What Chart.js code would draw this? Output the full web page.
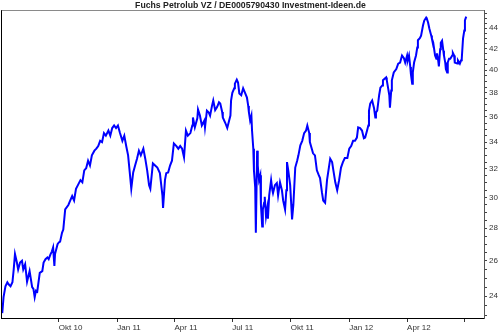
<!DOCTYPE html>
<html><head><meta charset="utf-8">
<script src="https://cdn.jsdelivr.net/npm/chart.js@4/dist/chart.umd.min.js"></script>
<style>html,body{margin:0;padding:0;background:#fff;}#wrap{width:500px;height:333px;}</style>
</head><body><div id="wrap"><canvas id="c" width="500" height="333"></canvas></div>
<script>
const chartTitle = 'Fuchs Petrolub VZ / DE0005790430 Investment-Ideen.de';

// days since 2010-07-01
const dayOffsets = [
  3,5,8,11,13,16,19,21,23,26,28,31,34,36,39,42,46,50,52,54,56,58,62,66,68,71,74,76,79,81,83,85,86,90,92,94,97,99,
  102,107,110,113,116,119,122,126,129,132,135,138,141,144,148,151,154,157,160,163,166,170,173,176,179,182,185,188,192,195,198,201,204,206,209,212,215,218,221,225,228,231,234,
  236,240,247,251,255,256,259,261,264,267,270,273,277,280,283,286,289,292,295,299,302,303,306,310,311,314,317,321,322,325,328,330,333,335,338,341,344,346,349,350,354,357,360,362,363,365,368,369,372,374,376,379,382,385,388,390,391,393,395,396,398,399,401,402,404,405,407,409,410,412,413,415,416,418,420,421,423,426,428,429,432,435,437,440,443,445,448,450,451,453,456,459,461,464,467,469,472,475,478,481,483,486,487,490,492,495,498,501,503,506,508,511,514,519,522,524,527,530,533,536,539,542,546,549,
  552,555,558,561,563,566,569,572,574,577,579,580,582,585,588,590,591,593,596,598,601,602,605,607,608,610,612,613,615,616,619,623,626,629,632,635,637,640,641,643,645,646,648,649,651,654,656,657,660,662,665,667,670,671,673,675,678,679,681,684,686,687,689,690,692,693,695,697,698,700,701,703,704,706,708,711,712,714,715,719,720,723,725,726,728,730,731,733
];
const closePrices = [
  23.1,23.95,24.55,24.77,24.66,24.55,24.77,25.5,26.4,25.9,25.5,25.9,26.0,25.5,25.8,24.8,25.4,24.5,24.4,23.95,24.3,24.25,25.3,25.4,25.9,26.1,26.2,26.1,26.4,26.55,26.8,25.7,26.4,27.0,27.1,27.15,27.7,27.9,
  29.2,29.5,29.8,30.1,29.8,30.6,30.85,31.2,31.05,31.9,32.05,32.6,32.25,33.0,33.35,33.5,33.7,34.1,34.0,34.7,34.5,34.9,34.5,35.1,35.3,35.1,35.3,34.75,34.1,34.5,33.7,33.0,31.55,30.6,31.75,32.25,32.75,33.35,33.0,33.5,32.75,31.9,30.85,
  30.6,32.4,32.1,31.7,30.15,29.3,31.2,31.7,31.75,32.25,32.6,33.9,33.7,33.5,33.7,33.5,32.85,34.9,34.5,34.7,35.3,35.95,35.15,35.9,36.6,36.1,35.3,35.7,35.15,36.5,36.35,36.1,36.9,37.35,36.55,36.8,37.2,37.1,36.4,35.95,35.5,35.1,35.7,36.1,37.35,38.0,38.4,38.8,39.15,38.9,37.95,37.8,38.4,38.0,37.6,36.9,36.4,35.7,36.1,34.9,33.5,31.9,30.7,27.7,33.35,32.25,31.2,31.55,29.5,28.1,29.2,29.65,30.05,28.75,29.3,28.6,30.15,31.2,30.5,30.3,30.85,31.0,30.15,31.05,30.5,29.8,29.2,30.5,32.5,31.9,30.85,28.55,29.5,32.1,32.6,33.0,33.75,34.1,34.7,34.9,35.3,34.7,34.0,33.5,33.15,33.0,31.9,31.55,31.35,30.35,29.8,29.65,31.2,32.75,32.5,31.9,31.05,30.5,31.2,32.1,32.5,32.8,32.8,33.5,
  33.7,34.1,34.1,34.35,35.15,35.1,34.9,34.3,34.35,34.9,35.3,36.5,37.1,37.35,36.7,35.95,36.35,36.5,37.8,38.45,38.65,39.1,39.25,39.35,39.1,38.45,37.8,36.75,38.2,39.1,39.8,40.1,40.6,40.7,41.35,41.1,40.7,41.35,40.9,41.35,40.3,39.65,38.8,39.8,40.7,41.35,42.1,42.8,43.0,43.25,44.25,44.75,45.05,44.95,44.55,43.95,43.25,42.95,42.6,41.35,41.05,41.55,40.85,40.35,41.95,42.55,42.75,41.8,41.35,40.7,40.1,39.8,40.7,41.05,41.05,41.35,41.6,41.35,40.7,40.6,40.9,40.6,40.9,41.05,42.95,43.75,44.75,45.15
];

const xTickDays = [92,184,274,365,457,549,640,731];
const xTickLabels = ['Okt 10','Jan 11','Apr 11','Jul 11','Okt 11','Jan 12','Apr 12',''];
const yLabelValues = [24,26,28,30,32,34,36,38,40,42,44];
const yTickValues = [];
for (let v = 23; v <= 45.5; v += 0.5) yTickValues.push(v);

const points = dayOffsets.map((d, i) => ({x: d, y: closePrices[i]}));
if (dayOffsets.length !== closePrices.length) console.error('length mismatch', dayOffsets.length, closePrices.length);

const FONT = 'Liberation Sans, Arial, Helvetica, sans-serif';

const framePlugin = {
  id: 'frame',
  afterDraw(chart) {
    const {ctx, chartArea: a} = chart;
    ctx.save();
    ctx.lineWidth = 1;
    ctx.strokeStyle = '#8a8a8a';
    ctx.beginPath(); ctx.moveTo(a.left, Math.round(a.top) + 0.5); ctx.lineTo(a.right, Math.round(a.top) + 0.5); ctx.stroke();
    ctx.strokeStyle = '#000';
    ctx.beginPath(); ctx.moveTo(Math.round(a.left) + 0.5, a.top); ctx.lineTo(Math.round(a.left) + 0.5, a.bottom); ctx.stroke();
    ctx.restore();
  }
};

new Chart(document.getElementById('c'), {
  type: 'line',
  data: { datasets: [{ data: points, borderColor: '#0000ff', borderWidth: 2, pointRadius: 0, tension: 0, fill: false }] },
  options: {
    responsive: false, devicePixelRatio: 1, animation: false,
    layout: { padding: { left: 1, right: 0, top: 0, bottom: 0 } },
    plugins: {
      legend: { display: false }, tooltip: { enabled: false },
      title: { display: true, text: chartTitle, color: '#222', padding: { top: 0, bottom: 0 },
        font: { family: FONT, size: 8.7, weight: 'bold', lineHeight: 1.18 } }
    },
    scales: {
      x: {
        type: 'linear', min: 1, max: 761,
        afterBuildTicks: s => { s.ticks = xTickDays.map(v => ({ value: v })); },
        afterFit: s => { s.height = 15; },
        grid: { drawOnChartArea: false, drawTicks: true, tickLength: 4, tickColor: '#333' },
        border: { display: true, color: '#000', width: 1 },
        ticks: { autoSkip: false, maxRotation: 0, minRotation: 0, align: 'start', padding: 1, color: '#333',
          font: { family: FONT, size: 8 }, callback: (v, i) => xTickLabels[i] }
      },
      y: {
        type: 'logarithmic', position: 'right', min: 22.85, max: 45.8,
        afterBuildTicks: s => { s.ticks = yTickValues.map(v => ({ value: v })); },
        afterFit: s => { s.width = 16; },
        grid: { drawOnChartArea: false, drawTicks: true, tickLength: 3, tickColor: '#444' },
        border: { display: true, color: '#555', width: 1 },
        ticks: { autoSkip: false, padding: 2, color: '#333', font: { family: FONT, size: 8 },
          callback: v => yLabelValues.includes(v) ? String(v) : '' }
      }
    }
  },
  plugins: [framePlugin]
});
</script></body></html>
